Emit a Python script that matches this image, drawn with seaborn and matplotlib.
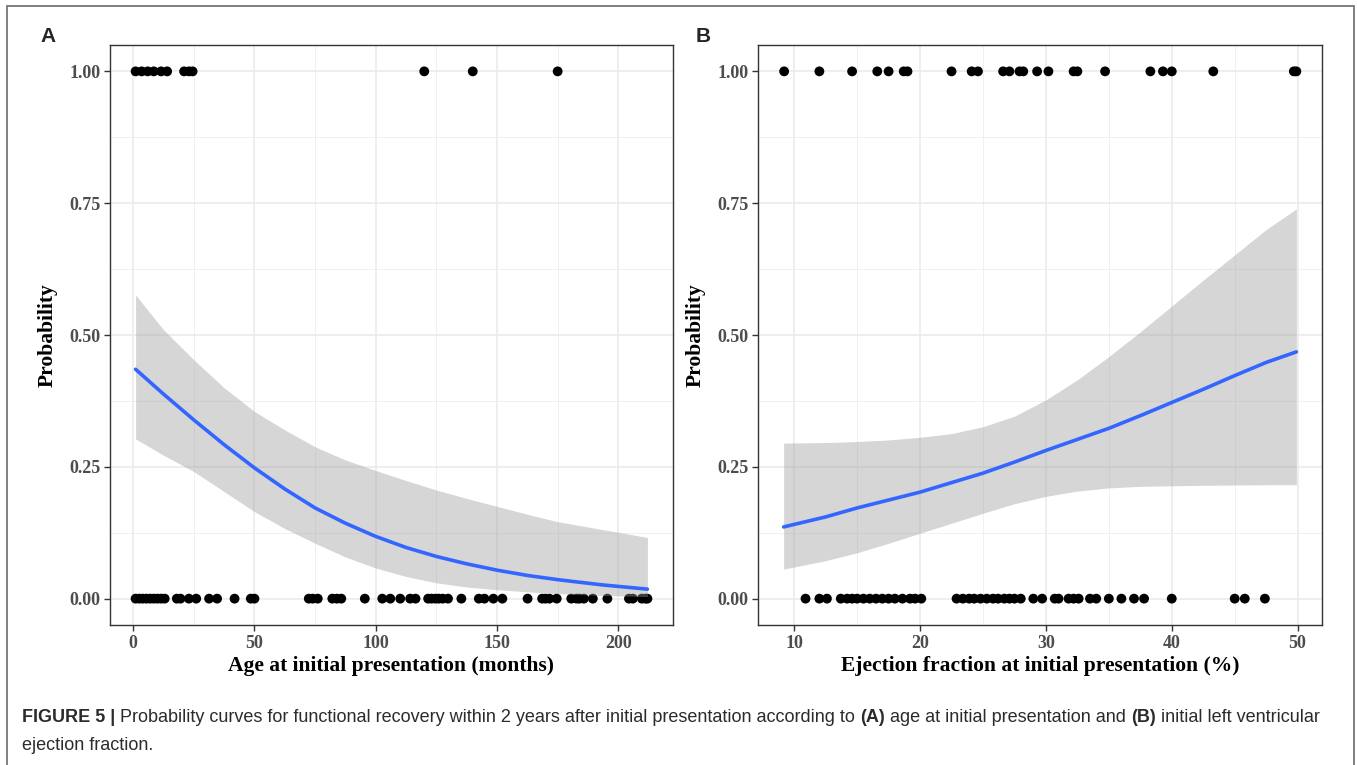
import matplotlib
matplotlib.use("Agg")
import pandas as pd
import matplotlib.pyplot as plt
import seaborn as sns
from matplotlib.ticker import MultipleLocator
from matplotlib.patches import Rectangle

# ---- data ----
# panel A: age at presentation (months), outcome 1 = recovered, 0 = not recovered
age_recovered = [1, 3.5, 6, 8.5, 11.5, 14, 21, 23, 24.5, 120, 140, 175]
age_not_recovered = [1, 2.5, 4, 5.5, 7, 8.5, 10, 11.5, 13, 18, 19.5, 23, 26, 31.3,
                     34.6, 41.8, 48.5, 50, 72.4, 74, 76.1, 82.1, 84, 85.8, 95.5,
                     102.7, 106, 110.1, 114.2, 116.4, 121.6, 123, 124.6, 126,
                     127.6, 129.8, 135.3, 142.5, 144.8, 148.5, 152.2, 162.6,
                     168.6, 170, 171.6, 174.6, 180.6, 182.8, 184, 185.8, 189.5,
                     195.5, 204.4, 206, 209.7, 211.2, 212]
# fitted probability curve and 95% band
age_grid = [1, 12.5, 25, 37.5, 50, 62.5, 75, 87.5, 100, 112.5, 125, 137.5, 150,
            162.5, 175, 193.5, 212]
age_fit = [0.435, 0.388, 0.339, 0.292, 0.248, 0.208, 0.172, 0.143, 0.118, 0.097,
           0.080, 0.066, 0.054, 0.044, 0.036, 0.026, 0.018]
age_hi = [0.576, 0.51, 0.453, 0.40, 0.355, 0.320, 0.288, 0.263, 0.243, 0.224,
          0.206, 0.190, 0.175, 0.160, 0.146, 0.131, 0.116]
age_lo = [0.303, 0.272, 0.241, 0.203, 0.165, 0.133, 0.105, 0.079, 0.058, 0.042,
          0.030, 0.022, 0.017, 0.013, 0.0095, 0.006, 0.004]

# panel B: ejection fraction (%)
ef_recovered = [9.2, 12.0, 14.6, 16.6, 17.5, 18.7, 19.0, 22.5, 24.1, 24.6, 26.6,
                27.1, 27.9, 28.2, 29.3, 30.2, 32.2, 32.5, 34.7, 38.3, 39.3, 40.0,
                43.3, 49.7, 49.9]
ef_not_recovered = [10.9, 12.0, 12.6, 13.7, 14.2, 14.6, 15.0, 15.5, 16.0, 16.5,
                    17.0, 17.5, 18.0, 18.6, 19.2, 19.6, 20.1, 22.9, 23.4, 23.9,
                    24.3, 24.8, 25.3, 25.8, 26.2, 26.7, 27.1, 27.5, 28.0, 29.0,
                    29.7, 30.7, 31.0, 31.8, 32.2, 32.6, 33.5, 34.0, 35.0, 36.0,
                    37.0, 37.8, 40.0, 45.0, 45.8, 47.4]
ef_grid = [9.16, 12.5, 15, 17.5, 20, 22.5, 25, 27.5, 30, 32.5, 35, 37.5, 40,
           42.5, 45, 47.5, 49.9]
ef_fit = [0.136, 0.155, 0.172, 0.187, 0.202, 0.220, 0.238, 0.259, 0.281, 0.302,
          0.323, 0.347, 0.372, 0.397, 0.423, 0.448, 0.468]
ef_hi = [0.295, 0.296, 0.298, 0.301, 0.306, 0.313, 0.326, 0.346, 0.377, 0.415,
         0.459, 0.506, 0.555, 0.604, 0.652, 0.700, 0.739]
ef_lo = [0.056, 0.072, 0.087, 0.105, 0.124, 0.143, 0.162, 0.180, 0.194, 0.204,
         0.210, 0.213, 0.214, 0.215, 0.2155, 0.216, 0.216]

y_ticks = [0, 0.25, 0.5, 0.75, 1.0]
y_tick_labels = ["0.00", "0.25", "0.50", "0.75", "1.00"]

# ---- style ----
sns.set_theme(style="white")
plt.rcParams['font.family'] = ['Liberation Serif', 'DejaVu Serif']

W, H = 1357, 765
fig = plt.figure(figsize=(W / 100, H / 100), dpi=100)

# outer frame of the published figure (open at the bottom)
fig.patches.append(Rectangle((7 / W, -0.02), (1354 - 7) / W, 1.02 - 6 / H,
                             transform=fig.transFigure, fill=False,
                             edgecolor='#6b6b6b', lw=1.2))

bottom = 1 - 625 / H
height = (625 - 45) / H
axA = fig.add_axes([110 / W, bottom, (673 - 110) / W, height])
axB = fig.add_axes([758 / W, bottom, (1322 - 758) / W, height])


def draw_panel(ax, rec, notrec, grid, fit, lo, hi, xmajor, xlabel):
    pts = pd.DataFrame({'x': rec + notrec,
                        'y': [1.0] * len(rec) + [0.0] * len(notrec)})
    sns.scatterplot(data=pts, x='x', y='y', ax=ax, color='black', s=50,
                    edgecolor='none', zorder=3)
    ax.fill_between(grid, lo, hi, color='#999999', alpha=0.4, lw=0, zorder=4)
    sns.lineplot(x=grid, y=fit, ax=ax, color='#3366FF', linewidth=2.6, zorder=5)

    allx = rec + notrec + grid
    span = max(allx) - min(allx)
    ax.set_xlim(min(allx) - 0.05 * span, max(allx) + 0.05 * span)
    ax.set_ylim(-0.05, 1.05)

    ax.xaxis.set_major_locator(MultipleLocator(xmajor))
    ax.xaxis.set_minor_locator(MultipleLocator(xmajor / 2))
    ax.set_yticks(y_ticks)
    ax.set_yticklabels(y_tick_labels)
    ax.yaxis.set_minor_locator(MultipleLocator(0.125))

    ax.grid(True, which='major', color='#EBEBEB', lw=1.2, zorder=0)
    ax.grid(True, which='minor', color='#F0F0F0', lw=0.7, zorder=0)
    ax.set_axisbelow(True)
    for s in ax.spines.values():
        s.set_color('#333333')
        s.set_linewidth(1.0)
        s.set_visible(True)

    ax.tick_params(which='major', direction='out', length=4, width=1,
                   color='#333333', labelcolor='#4D4D4D', labelsize=13,
                   bottom=True, left=True, pad=3)
    ax.tick_params(which='minor', length=0)
    for lab in ax.get_xticklabels() + ax.get_yticklabels():
        lab.set_fontweight('bold')

    ax.set_xlabel(xlabel, fontsize=15.5, fontweight='bold', color='black', labelpad=3)
    ax.set_ylabel('Probability', fontsize=15.5, fontweight='bold', color='black',
                  labelpad=8)


draw_panel(axA, age_recovered, age_not_recovered, age_grid, age_fit, age_lo,
           age_hi, 50, 'Age at initial presentation (months)')
draw_panel(axB, ef_recovered, ef_not_recovered, ef_grid, ef_fit, ef_lo,
           ef_hi, 10, 'Ejection fraction at initial presentation (%)')

# panel letters
fig.text(48 / W, 1 - 37 / H, 'A', fontsize=15, fontweight='bold',
         family='Liberation Sans', ha='center', va='center')
fig.text(703 / W, 1 - 37 / H, 'B', fontsize=15, fontweight='bold',
         family='Liberation Sans', ha='center', va='center')

# caption with mixed bold / regular runs
caption_line1 = [("FIGURE 5 |", 'bold'),
                 (" Probability curves for functional recovery within 2 years after "
                  "initial presentation according to ", 'normal'),
                 ("(A)", 'bold'),
                 (" age at initial presentation and ", 'normal'),
                 ("(B)", 'bold'),
                 (" initial left ventricular", 'normal')]
caption_line2 = [("ejection fraction.", 'normal')]

renderer = fig.canvas.get_renderer()
for line, ypix in [(caption_line1, 718), (caption_line2, 746)]:
    xpix = 22
    for txt, weight in line:
        t = fig.text(xpix / W, 1 - ypix / H, txt, fontsize=13, fontweight=weight,
                     family='Liberation Sans', color='#2b2b2b', va='center', ha='left')
        bb = t.get_window_extent(renderer=renderer)
        xpix += bb.width

fig.savefig('out.png', dpi=100)
